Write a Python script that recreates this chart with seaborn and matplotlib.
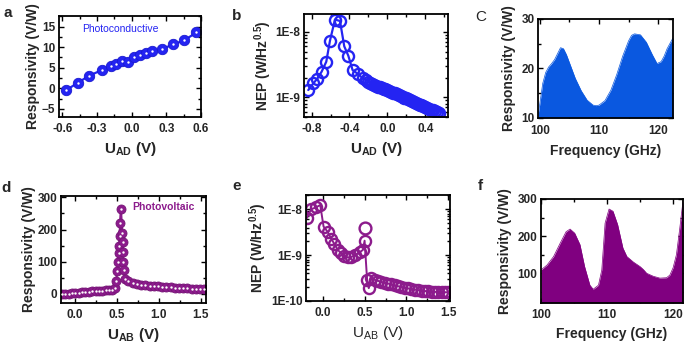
import numpy as np
import matplotlib
matplotlib.use("Agg")
import matplotlib.pyplot as plt
import seaborn as sns
from matplotlib.ticker import (MultipleLocator, FixedLocator, FixedFormatter,
                               LogLocator, NullFormatter, FuncFormatter)

# ---- panel a: photoconductive responsivity vs U_AD
a_volt = [-0.565, -0.463, -0.367, -0.26, -0.178, -0.134, -0.085, -0.032, 0.017,
          0.07, 0.122, 0.172, 0.259, 0.36, 0.457, 0.56]
a_resp = [-0.4, 1.4, 3.1, 4.4, 5.5, 6.0, 6.7, 6.45, 7.5, 8.0, 8.5, 9.0, 9.5,
          10.7, 11.7, 13.6]

# ---- panel b: NEP vs U_AD (units of 1e-9 W/Hz^0.5)
b_volt = [-0.835, -0.782, -0.74, -0.694, -0.645, -0.606, -0.553, -0.50, -0.455,
          -0.412, -0.367, -0.31, -0.26, -0.23, -0.20, -0.18, -0.16, -0.14, -0.12,
          -0.10, -0.08, -0.06, -0.04, -0.02, 0.0, 0.02, 0.04, 0.06, 0.08, 0.10,
          0.12, 0.14, 0.16, 0.18, 0.20, 0.22, 0.24, 0.26, 0.28, 0.30, 0.32, 0.34,
          0.36, 0.38, 0.40, 0.42, 0.44, 0.46, 0.48, 0.50, 0.52, 0.54]
b_nep = [1.29, 1.63, 1.92, 2.46, 3.49, 7.3, 15.4, 14.6, 6.0, 4.3, 2.6, 2.27,
         1.95, 1.85, 1.72, 1.66, 1.6, 1.55, 1.5, 1.46, 1.42, 1.38, 1.35, 1.32,
         1.28, 1.25, 1.21, 1.18, 1.15, 1.11, 1.08, 1.05, 1.02, 0.99, 0.96, 0.93,
         0.90, 0.87, 0.84, 0.82, 0.79, 0.77, 0.75, 0.73, 0.71, 0.69, 0.67, 0.65,
         0.63, 0.61, 0.60, 0.58]

# ---- panel c: photoconductive responsivity spectrum
c_freq = [99.7, 100.0, 100.5, 101.0, 101.5, 102.0, 102.5, 103.0, 103.5, 104.0,
          104.5, 105.0, 106.0, 107.0, 108.0, 109.0, 109.5, 110.0, 111.0, 112.0,
          113.0, 114.0, 115.0, 115.5, 116.0, 117.0, 118.0, 119.0, 119.8, 120.5,
          121.0, 121.5, 122.5]
c_resp = [10.5, 12.8, 17.0, 19.2, 20.3, 21.0, 21.8, 23.0, 24.2, 24.0, 22.8, 21.2,
          18.0, 15.5, 13.6, 12.6, 12.5, 12.6, 13.5, 15.6, 18.8, 22.5, 25.6, 26.7,
          27.0, 26.8, 25.3, 22.8, 21.0, 21.4, 22.5, 24.0, 26.2]

# ---- panel d: photovoltaic responsivity vs U_AB
d_volt = [-0.15, -0.11, -0.07, -0.03, 0.01, 0.05, 0.09, 0.13, 0.17, 0.21, 0.25,
          0.29, 0.33, 0.37, 0.41, 0.45, 0.48, 0.495, 0.505, 0.515, 0.525, 0.53,
          0.535, 0.54, 0.55, 0.565, 0.57, 0.575, 0.58, 0.585, 0.6, 0.64, 0.69,
          0.74, 0.79, 0.84, 0.89, 0.94, 0.99, 1.04, 1.09, 1.14, 1.19, 1.24, 1.29,
          1.34, 1.39, 1.44, 1.49, 1.54]
d_resp = [0, 0, 1, 2, 3, 4, 5, 6, 7, 8, 9, 10, 10, 11, 11, 12, 18, 40, 70, 98,
          128, 150, 180, 220, 265, 190, 160, 130, 100, 75, 48, 40, 33, 30, 28, 27,
          26, 25, 24, 23, 22, 21, 20, 19, 18, 17, 16, 15, 14, 14]

# ---- panel e: NEP vs U_AB (units of 1e-10 W/Hz^0.5)
e_volt = [-0.19, -0.14, -0.08, -0.03, 0.01, 0.06, 0.10, 0.14, 0.18, 0.22, 0.26,
          0.30, 0.34, 0.39, 0.44, 0.48, 0.50, 0.53, 0.55, 0.58, 0.62, 0.66, 0.70,
          0.74, 0.78, 0.82, 0.86, 0.90, 0.94, 0.98, 1.02, 1.06, 1.10, 1.14, 1.18,
          1.22, 1.26, 1.30, 1.34, 1.38, 1.42, 1.46, 1.50]
e_nep = [64, 100, 110, 124, 42, 32, 23, 17.4, 13, 11, 9.5, 8.9, 9.1, 10, 11.5,
         13, 20.6, 2.9, 1.9, 3.1, 2.9, 2.75, 2.6, 2.5, 2.4, 2.3, 2.2, 2.1, 2.0,
         1.95, 1.88, 1.82, 1.77, 1.72, 1.68, 1.65, 1.62, 1.6, 1.58, 1.57, 1.56,
         1.55, 1.55]
e_out_volt = [0.51]
e_out_nep = [40]

# ---- panel f: photovoltaic responsivity spectrum
f_freq = [100.0, 100.9, 101.9, 102.9, 103.8, 104.4, 105.1, 105.9, 106.6, 107.4,
          107.9, 108.7, 109.2, 109.7, 110.3, 110.9, 111.6, 112.4, 113.0, 114.0,
          115.0, 115.5, 116.0, 117.0, 118.0, 119.0, 119.5, 120.0, 120.5, 121.0,
          121.5]
f_resp = [109, 122, 145, 181, 212, 219, 208, 177, 118, 68, 57, 68, 109, 235, 273,
          267, 231, 168, 145, 130, 118, 110, 100, 92, 87, 88, 95, 115, 150, 220,
          295]

blue = "#2424f2"
blue_fill = "#0a58e0"
purple = "#8c1b8c"
purple_fill = "#800080"

sns.set_theme(style="ticks")
plt.rcParams["font.family"] = ["Liberation Sans", "DejaVu Sans"]
plt.rcParams["font.weight"] = "bold"
plt.rcParams["axes.labelweight"] = "bold"
plt.rcParams["mathtext.fontset"] = "custom"
plt.rcParams["mathtext.rm"] = "Liberation Sans:weight=normal"
plt.rcParams["mathtext.bf"] = "Liberation Sans:weight=bold"
plt.rcParams["mathtext.it"] = "Liberation Sans:italic"

fig = plt.figure(figsize=(6.85, 3.46), dpi=100)
ax_a = fig.add_axes([0.0861, 0.6618, 0.2073, 0.2919])
ax_b = fig.add_axes([0.4438, 0.6618, 0.2102, 0.2991])
ax_c = fig.add_axes([0.7854, 0.6590, 0.1971, 0.2861])
ax_d = fig.add_axes([0.0891, 0.1243, 0.2117, 0.3092])
ax_e = fig.add_axes([0.4467, 0.1301, 0.2102, 0.3064])
ax_f = fig.add_axes([0.7898, 0.1243, 0.2073, 0.3006])

LABEL = 10
TICK = 8.5
one_dec = FuncFormatter(lambda v, p: f"{v:.1f}")


def style_axes(ax, ylpad=1.5, xlpad=4):
    for s in ax.spines.values():
        s.set_linewidth(1.3)
        s.set_color("black")
    ax.tick_params(which="both", direction="in", top=True, right=True,
                   width=1.0, labelsize=TICK, color="black")
    ax.tick_params(axis="x", pad=4)
    ax.tick_params(axis="y", pad=2.5)
    ax.tick_params(which="major", length=3.5)
    ax.tick_params(which="minor", length=2)
    ax.xaxis.labelpad = xlpad
    ax.yaxis.labelpad = ylpad
    ax.grid(False)


# a
sns.lineplot(x=a_volt, y=a_resp, ax=ax_a, color=blue, lw=1.6, marker="o",
             markersize=7.5, markerfacecolor=blue, markeredgecolor="#1a1ad0",
             markeredgewidth=0.6, sort=False, estimator=None)
sns.scatterplot(x=a_volt, y=a_resp, ax=ax_a, color="white", s=3, linewidth=0, zorder=5)
ax_a.set_xlim(-0.63, 0.6)
ax_a.set_ylim(-7, 17.6)
ax_a.xaxis.set_major_locator(MultipleLocator(0.3))
ax_a.xaxis.set_minor_locator(MultipleLocator(0.15))
ax_a.xaxis.set_major_formatter(one_dec)
ax_a.yaxis.set_major_locator(MultipleLocator(5))
ax_a.yaxis.set_minor_locator(MultipleLocator(2.5))
ax_a.text(-0.43, 14.4, "Photoconductive", color=blue, fontsize=7.5,
          fontweight="normal", va="center", ha="left")
ax_a.set_xlabel(r"U$_{\mathbf{AD}}$ (V)", fontsize=LABEL + 1)
ax_a.set_ylabel("Responsivity (V/W)", fontsize=LABEL)
style_axes(ax_a)

# b
b_vals = [v * 1e-9 for v in b_nep]
sns.lineplot(x=b_volt, y=b_vals, ax=ax_b, color=blue, lw=1.6, marker="o",
             markersize=8, markerfacecolor="none", markeredgecolor=blue,
             markeredgewidth=1.7, sort=False, estimator=None)
ax_b.set_yscale("log")
ax_b.set_xlim(-0.88, 0.64)
ax_b.set_ylim(5.0e-10, 1.9e-8)
ax_b.xaxis.set_major_locator(MultipleLocator(0.4))
ax_b.xaxis.set_minor_locator(MultipleLocator(0.2))
ax_b.xaxis.set_major_formatter(one_dec)
ax_b.yaxis.set_major_locator(FixedLocator([1e-9, 1e-8]))
ax_b.yaxis.set_major_formatter(FixedFormatter(["1E-9", "1E-8"]))
ax_b.yaxis.set_minor_locator(LogLocator(base=10, subs=np.arange(2, 10)))
ax_b.yaxis.set_minor_formatter(NullFormatter())
ax_b.set_xlabel(r"U$_{\mathbf{AD}}$ (V)", fontsize=LABEL + 1)
ax_b.set_ylabel(r"NEP (W/Hz$^{\mathbf{0.5}}$)", fontsize=LABEL)
style_axes(ax_b)

# c
sns.lineplot(x=c_freq, y=c_resp, ax=ax_c, color=blue_fill, lw=0.5, sort=False, estimator=None)
ax_c.fill_between(c_freq, c_resp, 10, color=blue_fill, lw=0)
ax_c.set_xlim(99.7, 122.5)
ax_c.set_ylim(10, 30)
ax_c.xaxis.set_major_locator(MultipleLocator(10))
ax_c.xaxis.set_minor_locator(MultipleLocator(5))
ax_c.yaxis.set_major_locator(MultipleLocator(10))
ax_c.yaxis.set_minor_locator(MultipleLocator(5))
ax_c.set_xlabel("Frequency (GHz)", fontsize=LABEL)
ax_c.set_ylabel("Responsivity (V/W)", fontsize=LABEL)
style_axes(ax_c, ylpad=4, xlpad=5)
ax_c.tick_params(axis="x", pad=5)

# d
sns.lineplot(x=d_volt, y=d_resp, ax=ax_d, color=purple, lw=1.6, marker="o",
             markersize=6.5, markerfacecolor=purple, markeredgecolor="#761676",
             markeredgewidth=0.6, sort=False, estimator=None)
sns.scatterplot(x=d_volt, y=d_resp, ax=ax_d, color="white", s=3, linewidth=0, zorder=5)
ax_d.set_xlim(-0.16, 1.56)
ax_d.set_ylim(-28, 304)
ax_d.xaxis.set_major_locator(MultipleLocator(0.5))
ax_d.xaxis.set_minor_locator(MultipleLocator(0.25))
ax_d.xaxis.set_major_formatter(one_dec)
ax_d.yaxis.set_major_locator(MultipleLocator(100))
ax_d.yaxis.set_minor_locator(MultipleLocator(50))
ax_d.text(0.68, 269, "Photovoltaic", color=purple, fontsize=7.5,
          fontweight="bold", va="center", ha="left")
ax_d.set_xlabel(r"U$_{\mathbf{AB}}$ (V)", fontsize=LABEL + 1)
ax_d.set_ylabel("Responsivity (V/W)", fontsize=LABEL)
style_axes(ax_d)

# e
e_vals = [v * 1e-10 for v in e_nep]
sns.lineplot(x=e_volt, y=e_vals, ax=ax_e, color=purple, lw=1.4, marker="o",
             markersize=8, markerfacecolor="none", markeredgecolor=purple,
             markeredgewidth=1.7, sort=False, estimator=None)
ax_e.plot(e_out_volt, [v * 1e-10 for v in e_out_nep], ls="none", marker="o",
          ms=8.5, mfc="none", mec=purple, mew=1.7)
ax_e.set_yscale("log")
ax_e.set_xlim(-0.2, 1.52)
ax_e.set_ylim(1e-10, 2.05e-8)
ax_e.xaxis.set_major_locator(MultipleLocator(0.5))
ax_e.xaxis.set_minor_locator(MultipleLocator(0.25))
ax_e.xaxis.set_major_formatter(one_dec)
ax_e.yaxis.set_major_locator(FixedLocator([1e-10, 1e-9, 1e-8]))
ax_e.yaxis.set_major_formatter(FixedFormatter(["1E-10", "1E-9", "1E-8"]))
ax_e.yaxis.set_minor_locator(LogLocator(base=10, subs=np.arange(2, 10)))
ax_e.yaxis.set_minor_formatter(NullFormatter())
ax_e.set_xlabel(r"U$_{\rm AB}$ (V)", fontsize=LABEL + 1, fontweight="normal")
ax_e.set_ylabel(r"NEP (W/Hz$^{\mathbf{0.5}}$)", fontsize=LABEL)
style_axes(ax_e)

# f
sns.lineplot(x=f_freq, y=f_resp, ax=ax_f, color=purple_fill, lw=0.5, sort=False, estimator=None)
ax_f.fill_between(f_freq, f_resp, 20, color=purple_fill, lw=0)
ax_f.set_xlim(100, 121.5)
ax_f.set_ylim(20, 300)
ax_f.xaxis.set_major_locator(MultipleLocator(10))
ax_f.xaxis.set_minor_locator(MultipleLocator(5))
ax_f.yaxis.set_major_locator(FixedLocator([100, 200, 300]))
ax_f.yaxis.set_minor_locator(MultipleLocator(50))
ax_f.set_xlabel("Frequency (GHz)", fontsize=LABEL)
ax_f.set_ylabel("Responsivity (V/W)", fontsize=LABEL)
style_axes(ax_f, ylpad=4, xlpad=5)

# panel letters
for lab, x, y, w in [("a", 8, 13, "bold"), ("b", 237, 16, "bold"), ("C", 481, 17, "normal"),
                     ("d", 6, 188, "bold"), ("e", 237, 186, "bold"), ("f", 480, 186, "bold")]:
    fig.text(x / 685, 1 - y / 346, lab, fontsize=11, fontweight=w, ha="center", va="center")

# make sure all tick labels come out bold
fig.canvas.draw()
for ax in fig.axes:
    for t in ax.get_xticklabels() + ax.get_yticklabels():
        t.set_fontweight("bold")

fig.savefig("out.png", dpi=100)
